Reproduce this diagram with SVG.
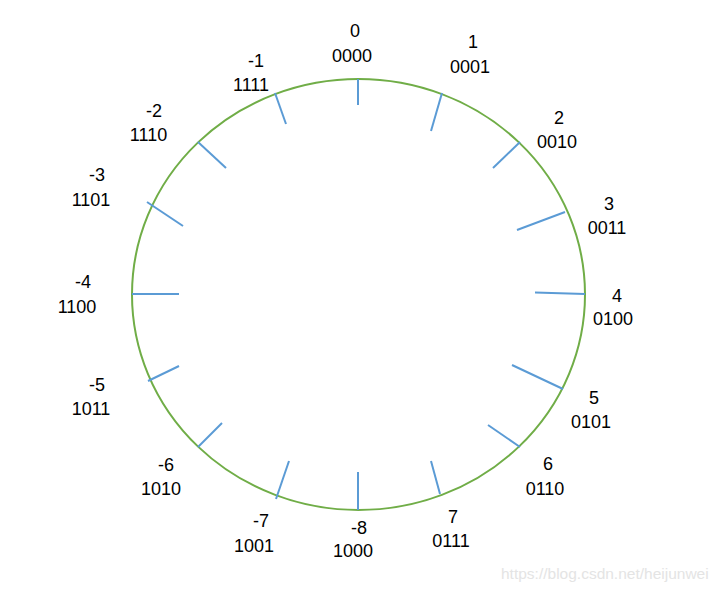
<svg xmlns="http://www.w3.org/2000/svg" width="722" height="591" viewBox="0 0 722 591">
<style>
.ring{fill:none;stroke:#70AD47;stroke-width:2}
.tick{stroke:#5B9BD5;stroke-width:2;fill:none}
text{font-family:"Liberation Sans",Arial,sans-serif;font-size:18px;fill:#000;text-anchor:middle}
.wm{font-size:15.5px;fill:#e4e4e4;text-anchor:start}
</style>
<rect width="722" height="591" fill="#fff"/>
<g id="ring"><ellipse class="ring" cx="358.5" cy="294.5" rx="226.5" ry="215.5"/></g>
<g id="connectors">
<line class="tick" x1="358" y1="79" x2="358" y2="105"/>
<line class="tick" x1="442" y1="93" x2="431" y2="131"/>
<line class="tick" x1="520" y1="142" x2="493" y2="168"/>
<line class="tick" x1="565" y1="212" x2="517" y2="230"/>
<line class="tick" x1="585" y1="294" x2="535" y2="292.5"/>
<line class="tick" x1="563" y1="389" x2="512" y2="365"/>
<line class="tick" x1="520" y1="447" x2="488" y2="425"/>
<line class="tick" x1="440" y1="494" x2="431" y2="461"/>
<line class="tick" x1="358" y1="510" x2="358" y2="472"/>
<line class="tick" x1="276" y1="499" x2="289" y2="461"/>
<line class="tick" x1="198" y1="447" x2="222" y2="423"/>
<line class="tick" x1="148" y1="381" x2="179" y2="366"/>
<line class="tick" x1="132" y1="294" x2="179" y2="294"/>
<line class="tick" x1="147" y1="202" x2="183" y2="226"/>
<line class="tick" x1="198" y1="142" x2="226" y2="168"/>
<line class="tick" x1="275" y1="93" x2="286" y2="124"/>
</g>
<g id="n0"><text x="355" y="37">0</text><text x="352" y="62">0000</text></g>
<g id="n1"><text x="473" y="48">1</text><text x="470" y="73">0001</text></g>
<g id="n2"><text x="559" y="124">2</text><text x="557" y="148">0010</text></g>
<g id="n3"><text x="609" y="210">3</text><text x="607" y="234">0011</text></g>
<g id="n4"><text x="617" y="302">4</text><text x="613" y="325">0100</text></g>
<g id="n5"><text x="594" y="404">5</text><text x="591" y="428">0101</text></g>
<g id="n6"><text x="548" y="470">6</text><text x="545" y="495">0110</text></g>
<g id="n7"><text x="453" y="523">7</text><text x="451" y="547">0111</text></g>
<g id="nm8"><text x="359" y="534">-8</text><text x="353" y="557">1000</text></g>
<g id="nm7"><text x="261" y="527">-7</text><text x="254" y="552">1001</text></g>
<g id="nm6"><text x="166" y="471">-6</text><text x="161" y="495">1010</text></g>
<g id="nm5"><text x="97" y="391">-5</text><text x="91" y="415">1011</text></g>
<g id="nm4"><text x="83" y="288">-4</text><text x="77" y="313">1100</text></g>
<g id="nm3"><text x="97" y="181">-3</text><text x="91" y="206">1101</text></g>
<g id="nm2"><text x="154" y="117">-2</text><text x="148.5" y="141">1110</text></g>
<g id="nm1"><text x="256" y="67">-1</text><text x="251" y="91">1111</text></g>
<text class="wm" x="501" y="579">https://blog.csdn.net/heijunwei</text>
</svg>
